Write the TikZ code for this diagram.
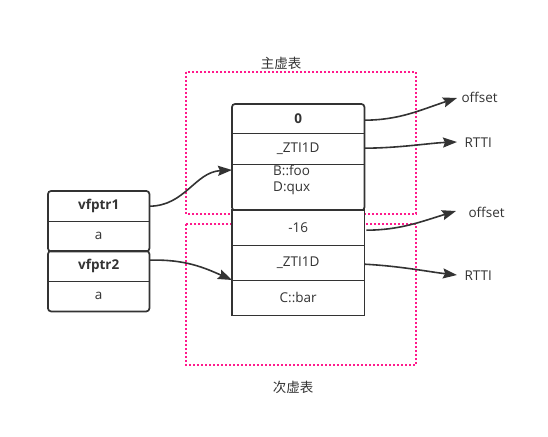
\documentclass[tikz,border=0pt]{standalone}
\usepackage{fontspec}
\setmainfont{Open Sans}
\newfontfamily\cjk{Noto Sans CJK SC}
\usetikzlibrary{arrows.meta,calc}
\definecolor{ink}{HTML}{333333}
\definecolor{pinkdot}{HTML}{FF1A8C}
\begin{document}
\begin{tikzpicture}[x=1pt,y=-1pt,
  every node/.style={text=ink,font=\fontsize{13.5}{15}\selectfont},
  cell/.style={minimum width=132pt,inner sep=0pt,anchor=north west,fill=white},
  lcell/.style={minimum width=101pt,minimum height=30pt,inner sep=0pt,anchor=north west,fill=white},
  frame/.style={draw=ink,line width=1.7pt},
  group/.style={draw=pinkdot,line width=1.8pt,dash pattern=on 1.8pt off 2.2pt},
  arr/.style={draw=ink,line width=1.6pt,-{Stealth[length=14pt,width=10pt,inset=2pt]}},
  lbl/.style={anchor=west}]
\useasboundingbox (0,0) rectangle (548,436);
% dotted groups
\draw[group] (186,72) rectangle (416,214);
\draw[group] (186,224) rectangle (416,365);
\node (main) at (281,63) {\cjk 主虚表};
\node (sec) at (293,387) {\cjk 次虚表};
% upper table
\node[cell,minimum height=29pt] (r0) at (232,104) {\bfseries 0};
\node[cell,minimum height=31pt] (r1) at (232,133) {\_ZTI1D};
\node[cell,minimum height=46pt] (r2) at (232,164) {};
\node[anchor=north west,align=left,inner sep=0pt,font=\fontsize{13.5}{16}\selectfont] (r2t) at (273,165) {B::foo\\D:qux};
\draw[frame,rounded corners=3pt] (r0.north west) rectangle (r2.south east);
\draw[frame] (r0.south west) -- (r0.south east);
\draw[frame] (r1.south west) -- (r1.south east);
% lower table
\node[cell,minimum height=35pt] (s0) at (232,210) {-16};
\node[cell,minimum height=35pt] (s1) at (232,245) {\_ZTI1D};
\node[cell,minimum height=35pt] (s2) at (232,280) {C::bar};
\draw[frame] (s0.north west) rectangle (s2.south east);
\draw[frame] (s0.south west) -- (s0.south east);
\draw[frame] (s1.south west) -- (s1.south east);
% left boxes
\node[lcell] (v1) at (48,191) {\bfseries vfptr1};
\node[lcell] (a1) at (48,221) {a};
\node[lcell] (v2) at (48,251) {\bfseries vfptr2};
\node[lcell] (a2) at (48,281) {a};
\draw[frame,rounded corners=3pt] (v1.north west) rectangle (a1.south east);
\draw[frame] (v1.south west) -- (v1.south east);
\draw[frame,rounded corners=3pt] (v2.north west) rectangle (a2.south east);
\draw[frame] (v2.south west) -- (v2.south east);
% right labels
\node[lbl] (o1) at (458,97) {offset};
\node[lbl] (t1) at (461,143) {RTTI};
\node[lbl] (o2) at (465,212) {offset};
\node[lbl] (t2) at (461,276) {RTTI};
% connectors
\draw[arr] (v1.east) .. controls (185,206) and (195,172) .. ($(r2.north west)+(0,6)$);
\draw[arr] ($(v2.east)+(0,-6)$) .. controls (185,259) and (205,268) .. (s2.north west);
\draw[arr] ($(r0.east)+(0,1.5)$) .. controls (400,120) and (420,110) .. ($(o1.west)+(-1,1)$);
\draw[arr] ($(r1.east)+(0,-0.5)$) .. controls (400,148) and (430,143) .. ($(t1.west)+(-4,-1)$);
\draw[arr] ($(s0.east)+(2,2.5)$) .. controls (400,230) and (420,222) .. ($(o2.west)+(-9,-1)$);
\draw[arr] ($(s1.east)+(0,1.5)$) .. controls (400,266) and (430,272) .. ($(t2.west)+(-4,-1)$);
\end{tikzpicture}
\end{document}
